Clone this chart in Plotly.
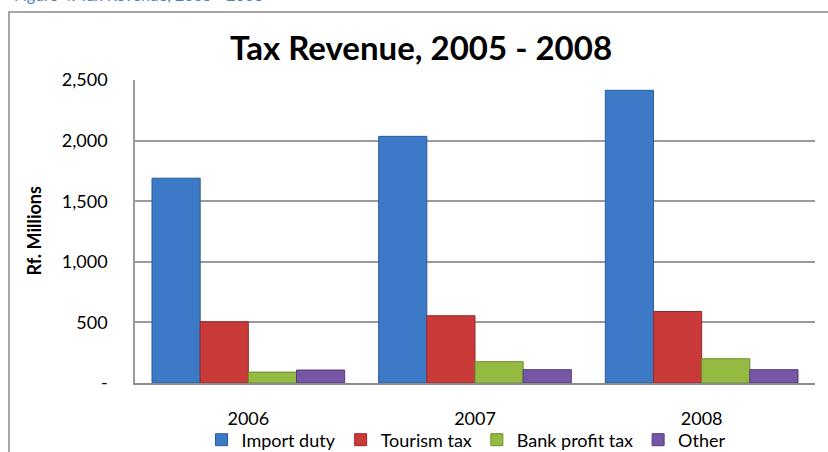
import plotly.graph_objects as go

# Tax revenue by category, Rf. millions
years = ["2006", "2007", "2008"]
import_duty = [1690, 2035, 2415]
tourism_tax = [505, 555, 590]
bank_profit_tax = [90, 176, 200]
other = [107, 110, 110]

series_names = ["Import duty", "Tourism tax", "Bank profit tax", "Other"]
series_values = [import_duty, tourism_tax, bank_profit_tax, other]
fill_colors = ["#3C7AC8", "#C93A38", "#94BA42", "#7657A6"]
edge_colors = ["#2B5C9C", "#96292A", "#6C8C2E", "#523B7D"]

y_tick_vals = [0, 500, 1000, 1500, 2000, 2500]
y_tick_text = ["-", "500", "1,000", "1,500", "2,000", "2,500"]

FONT = "Lato"
PLOT_L, PLOT_R, PLOT_T, PLOT_B = 135, 815, 80, 383
PW, PH = PLOT_R - PLOT_L, PLOT_B - PLOT_T


def px_x(x):
    return (x - PLOT_L) / PW


def px_y(y):
    return (PLOT_B - y) / PH


fig = go.Figure()
for name, vals, fc, ec in zip(series_names, series_values, fill_colors, edge_colors):
    fig.add_trace(go.Bar(
        name=name, x=years, y=vals,
        marker=dict(color=fc, line=dict(color=ec, width=1)),
    ))

fig.update_layout(
    width=828, height=452,
    margin=dict(l=PLOT_L, r=828 - PLOT_R, t=PLOT_T, b=452 - PLOT_B, autoexpand=False),
    paper_bgcolor="white", plot_bgcolor="white",
    barmode="group", bargap=0.15, bargroupgap=0,
    font=dict(family=FONT, size=18, color="black"),
    showlegend=True,
    legend=dict(
        orientation="h", x=px_x(466), xanchor="center", y=px_y(440), yanchor="middle",
        font=dict(family=FONT, size=18), itemwidth=30, tracegroupgap=0,
        bgcolor="rgba(0,0,0,0)",
    ),
    xaxis=dict(
        showgrid=False, showline=True, linecolor="#8C8C8C", linewidth=2,
        ticks="", ticklabelstandoff=18, tickfont=dict(size=18),
    ),
    yaxis=dict(
        range=[0, 2500], tickvals=y_tick_vals, ticktext=y_tick_text,
        showgrid=True, gridcolor="#9A9A9A", gridwidth=1.5,
        showline=True, linecolor="#9A9A9A", linewidth=1.5,
        zeroline=False, ticks="", ticklabelstandoff=22, tickfont=dict(size=18),
    ),
    annotations=[
        dict(text="<b>Tax Revenue, 2005 - 2008</b>", xref="paper", yref="paper",
             x=px_x(421), y=px_y(47), xanchor="center", yanchor="middle",
             showarrow=False, font=dict(family=FONT, size=33, color="black")),
        dict(text="<b>Rf. Millions</b>", xref="paper", yref="paper", textangle=-90,
             x=px_x(33), y=0.5, xanchor="center", yanchor="middle",
             showarrow=False, font=dict(family=FONT, size=18, color="black")),
        dict(text="Figure 4: Tax Revenue, 2005 - 2008", xref="paper", yref="paper",
             x=px_x(12), y=px_y(6), xanchor="left", yanchor="bottom",
             showarrow=False, font=dict(family=FONT, size=16, color="#4F81BD")),
    ],
    shapes=[
        dict(type="rect", xref="paper", yref="paper",
             x0=px_x(9), x1=px_x(845), y0=px_y(470), y1=px_y(12),
             line=dict(color="#8A8A8A", width=1.5), fillcolor="rgba(0,0,0,0)", layer="below"),
    ],
)

fig.write_html("out.html")
